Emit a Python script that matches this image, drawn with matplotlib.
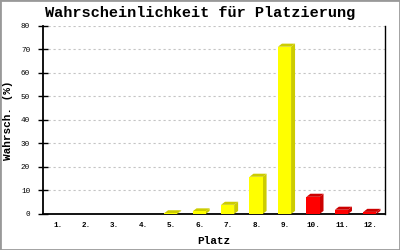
import matplotlib
matplotlib.use("Agg")
import matplotlib.pyplot as plt
from matplotlib.patches import Polygon, Rectangle

# chart data
places = ["1.", "2.", "3.", "4.", "5.", "6.", "7.", "8.", "9.", "10.", "11.", "12."]
probs = [0, 0, 0, 0, 0.3, 1.1, 3.9, 15.8, 71.0, 7.3, 1.8, 0.9]
front_colors = ["#FFFF00"] * 9 + ["#FF0000"] * 3
side_colors = ["#CCCC00"] * 9 + ["#CC0000"] * 3

mono = "Liberation Mono"

fig = plt.figure(figsize=(4, 2.5), dpi=100)
fig.patches.append(Rectangle((0, 0), 1, 1, transform=fig.transFigure,
                             fill=False, edgecolor="#999999", lw=2))
ax = fig.add_axes([0.1085, 0.144, 0.854, 0.754])

width = 0.46
dx, dy = 0.14, 1.3   # fake depth of the 3d bars
xs = list(range(len(places)))
for x, h, fc, sc in zip(xs, probs, front_colors, side_colors):
    if h <= 0:
        continue
    x0, x1 = x - width / 2 - 0.03, x + width / 2 - 0.03
    ax.add_patch(Polygon([(x1, 0), (x1 + dx, dy), (x1 + dx, h + dy), (x1, h)],
                         closed=True, facecolor=sc, edgecolor="none", zorder=3))
    ax.add_patch(Polygon([(x0, h), (x0 + dx, h + dy), (x1 + dx, h + dy), (x1, h)],
                         closed=True, facecolor=sc, edgecolor="none", zorder=3))
    ax.bar(x - 0.03, h, width=width, color=fc, zorder=4)

ax.set_xlim(-0.5, len(places) - 0.5)
ax.set_ylim(0, 80)
ax.set_xticks(xs)
ax.set_xticklabels(places, fontsize=5.5, family=mono, fontweight="bold")
ax.set_yticks(range(0, 81, 10))
ax.set_yticklabels([str(v) for v in range(0, 81, 10)], fontsize=5.5, family=mono)
ax.tick_params(axis="x", length=0, pad=6)
ax.tick_params(axis="y", direction="inout", length=7, width=1, pad=6)
ax.yaxis.grid(True, color="#C4C4C4", linestyle=(0, (2, 2.5)), lw=0.8)
ax.set_axisbelow(True)

ax.spines["top"].set_visible(False)
ax.spines["left"].set_linewidth(1.3)
ax.spines["bottom"].set_linewidth(1.3)
ax.spines["right"].set_linewidth(1.0)

ax.set_xlabel("Platz", fontsize=8, family=mono, fontweight="bold", labelpad=5)
ax.set_ylabel("Wahrsch. (%)", fontsize=8, family=mono, fontweight="bold", labelpad=6)
fig.text(0.5, 0.947, "Wahrscheinlichkeit für Platzierung", ha="center", va="center",
         fontsize=11, family=mono, fontweight="bold")

fig.savefig("out.png", dpi=100)
